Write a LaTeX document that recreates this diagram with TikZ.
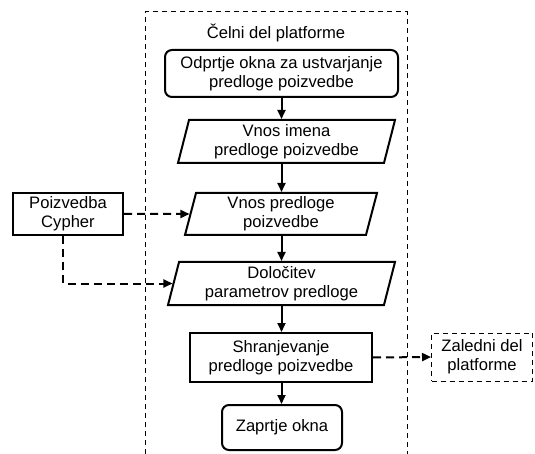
\documentclass[tikz,border=0pt]{standalone}
\usepackage{fontspec}
\setmainfont{Liberation Sans}
\usetikzlibrary{shapes.geometric,arrows.meta}
\begin{document}
\begin{tikzpicture}[x=1pt,y=-1pt,
  font=\fontsize{16.6}{19}\selectfont,
  korak/.style={draw,line width=2pt,align=center,inner sep=2pt},
  zaobljen/.style={korak,rounded corners=7pt},
  vnos/.style={korak,trapezium,trapezium left angle=74,trapezium right angle=106,trapezium stretches body},
  tok/.style={-{Triangle[length=9pt,width=8pt]},line width=2pt},
  crtkan/.style={tok,dash pattern=on 8pt off 5pt}]
  \useasboundingbox (0,0) rectangle (535,454);
  % Frontend container
  \draw[line width=1pt,dash pattern=on 5pt off 4pt] (145,454) -- (145,12) -- (407,12) -- (407,454);
  \node (celni) at (276,33) {Čelni del platforme};
  % Main flow
  \node[zaobljen,minimum width=233,minimum height=47] (odpri) at (281.5,73.5) {Odprtje okna za ustvarjanje\\predloge poizvedbe};
  \node[vnos,minimum width=217,minimum height=43] (ime) at (286.5,141.5) {Vnos imena\\predloge poizvedbe};
  \node[vnos,minimum width=192,minimum height=42] (predloga) at (281,214) {Vnos predloge\\poizvedbe};
  \node[vnos,minimum width=227,minimum height=43] (parametri) at (281.5,283.5) {Določitev\\parametrov predloge};
  \node[korak,minimum width=182,minimum height=49] (shrani) at (281,357.5) {Shranjevanje\\predloge poizvedbe};
  \node[zaobljen,minimum width=120,minimum height=45] (zapri) at (282,427.5) {Zaprtje okna};
  % Outside nodes
  \node[korak,minimum width=110,minimum height=42] (cypher) at (68,214) {Poizvedba\\Cypher};
  \node[draw,line width=1pt,dash pattern=on 5pt off 4pt,align=center,minimum width=101,minimum height=48] (zaledni) at (482,357) {Zaledni del\\platforme};
  % Arrows
  \draw[tok] (odpri.south) -- (odpri.south |- ime.north);
  \draw[tok] (odpri.south |- ime.south) -- (odpri.south |- predloga.north);
  \draw[tok] (odpri.south |- predloga.south) -- (odpri.south |- parametri.north);
  \draw[tok] (odpri.south |- parametri.south) -- (odpri.south |- shrani.north);
  \draw[tok] (odpri.south |- shrani.south) -- (odpri.south |- zapri.north);
  \draw[crtkan] (cypher.east) -- (predloga.west);
  \draw[crtkan] ([xshift=-5pt]cypher.south) |- (parametri.west);
  \draw[crtkan] (shrani.east) -- (zaledni.west);
\end{tikzpicture}
\end{document}
